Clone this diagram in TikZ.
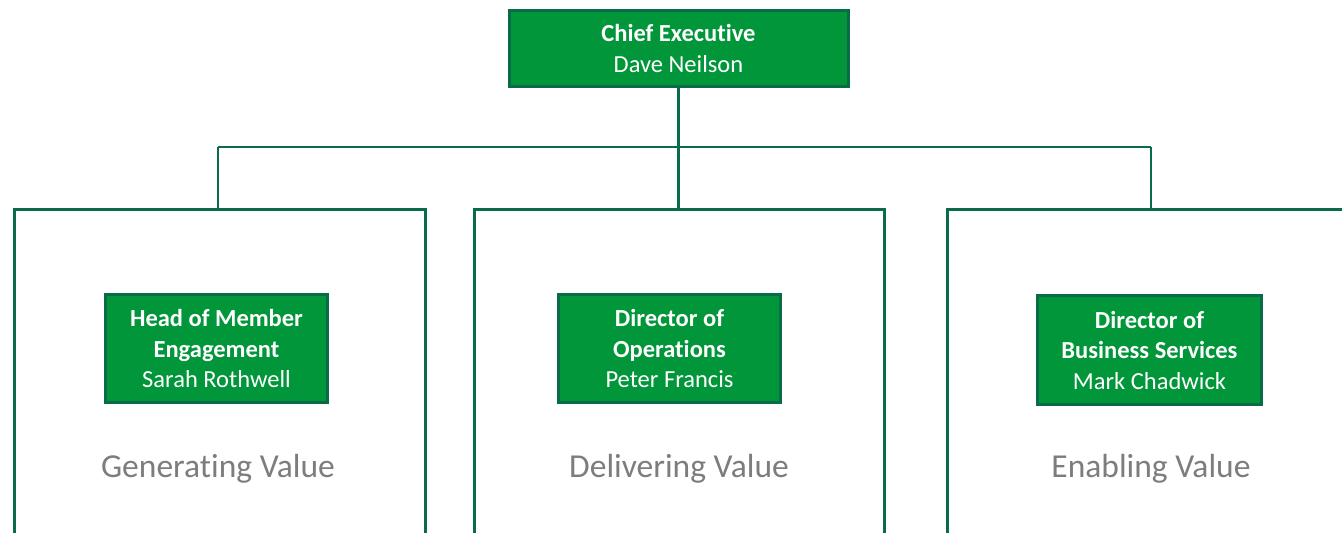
\documentclass[tikz,border=0pt]{standalone}
\usepackage{fontspec}
\setmainfont{Carlito}[Ligatures=NoCommon]
\definecolor{boxgreen}{RGB}{0,150,57}
\definecolor{darkgreen}{RGB}{8,108,72}
\definecolor{labelgrey}{RGB}{125,125,125}
\tikzset{
  rolebox/.style={draw=darkgreen, line width=3pt, fill=boxgreen, text=white, align=center,
    inner sep=0pt, font=\fontsize{24.5}{30.5}\selectfont},
  areabox/.style={draw=darkgreen, line width=3pt, fill=white, inner sep=0pt},
  arealabel/.style={text=labelgrey, font=\fontsize{33.5}{38}\selectfont, inner sep=0pt},
  conn/.style={draw=darkgreen, line width=2.6pt}
}
\begin{document}
\begin{tikzpicture}[x=1pt,y=1pt]
\clip (0,0) rectangle (1342,-533);
\fill[white] (0,0) rectangle (1342,-533);
% area boxes (extend beyond the visible frame)
\node[areabox, minimum width=411pt, minimum height=400pt, anchor=north west] (gen) at (13,-208) {};
\node[areabox, minimum width=410pt, minimum height=400pt, anchor=north west] (del) at (473,-208) {};
\node[areabox, minimum width=500pt, minimum height=400pt, anchor=north west] (enb) at (946,-208) {};
% top box
\node[rolebox, minimum width=339pt, minimum height=76pt] (ceo) at (678.5,-48.5)
  {\textbf{Chief Executive}\\Dave Neilson};
% role boxes
\node[rolebox, minimum width=222pt, minimum height=108pt] (hme) at (216.5,-348.5)
  {\textbf{Head of Member}\\\textbf{Engagement}\\Sarah Rothwell};
\node[rolebox, minimum width=222pt, minimum height=108pt] (dop) at (669.5,-348.5)
  {\textbf{Director of}\\\textbf{Operations}\\Peter Francis};
\node[rolebox, minimum width=224pt, minimum height=109pt] (dbs) at (1149.5,-350)
  {\textbf{Director of}\\\textbf{Business Services}\\Mark Chadwick};
% area labels
\node[arealabel] (genl) at (218,-469) {Generating Value};
\node[arealabel] (dell) at (679,-469) {Delivering Value};
\node[arealabel] (enbl) at (1151,-469) {Enabling Value};
% connectors
\coordinate (bus) at (ceo.south |- 0,-147);
\draw[conn] (ceo.south) -- (bus);
\draw[conn] (bus -| genl) -- (bus -| enbl);
\draw[conn] (bus -| genl) -- (genl |- gen.north);
\draw[conn] (bus) -- (bus |- del.north);
\draw[conn] (bus -| enbl) -- (enbl |- enb.north);
\end{tikzpicture}
\end{document}
